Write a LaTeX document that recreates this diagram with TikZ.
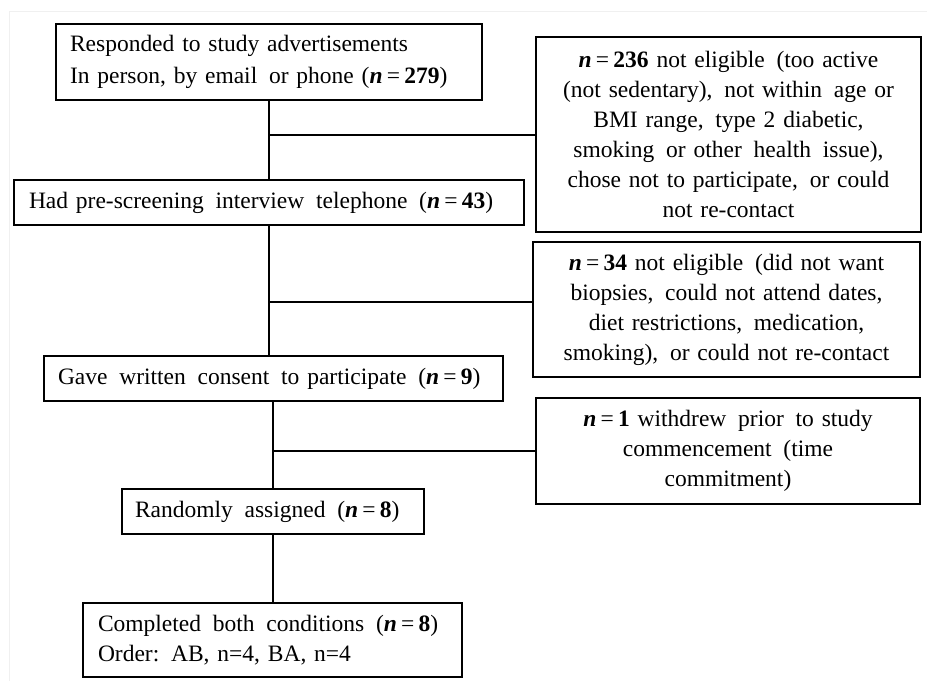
\documentclass[tikz,border=0pt]{standalone}
\usepackage{fontspec}
\setmainfont{Liberation Serif}
\newcommand{\nn}[1]{\textbf{\textit{n}}\hspace{0.18em}=\hspace{0.18em}\textbf{#1}}
\begin{document}
\begin{tikzpicture}[x=1pt,y=-1pt,
  box/.style={draw, line width=1.2pt, inner sep=0pt,
    font=\fontsize{23.5}{30}\selectfont},
  lbox/.style={box, align=left},
  cbox/.style={box, align=center},
  conn/.style={line width=1.2pt}]
\useasboundingbox (0,0) rectangle (927,681);
\fill[white] (0,0) rectangle (927,681);
\draw[black!6, line width=0.8pt] (9,681) -- (9,11) -- (927,11);
% left column
\node[lbox, minimum width=426pt, minimum height=76pt, text width=398pt] (b1) at (269,62)
  {Responded to study advertisements\\[2pt]In person, by email\, or phone (\nn{279})};
\node[lbox, minimum width=510pt, minimum height=45pt, text width=480pt] (b2) at (269,202.5)
  {Had pre-screening\, interview\, telephone\, (\nn{43})};
\node[lbox, minimum width=459pt, minimum height=45pt, text width=431pt] (b3) at (273.5,378.5)
  {Gave\, written\, consent\, to participate\, (\nn{9})};
\node[lbox, minimum width=302pt, minimum height=45pt, text width=276pt] (b4) at (273,511.5)
  {Randomly\, assigned\, (\nn{8})};
\node[lbox, minimum width=379pt, minimum height=74pt, text width=349pt] (b5) at (272.5,640)
  {Completed\, both\, conditions\, (\nn{8})\\Order: AB, n=4, BA, n=4};
% right column
\node[cbox, minimum width=385pt, minimum height=195pt, text width=375pt] (r1) at (728.5,134.5)
  {\nn{236} not eligible\, (too active\\(not sedentary),\, not within\, age or\\BMI range,\, type 2 diabetic,\\smoking\, or other\, health\, issue),\\chose not to participate,\, or could\\not re-contact};
\node[cbox, minimum width=387pt, minimum height=135pt, text width=377pt] (r2) at (726.5,309.5)
  {\nn{34} not eligible\, (did not want\\biopsies,\, could not attend dates,\\diet restrictions,\, medication,\\smoking),\, or could not re-contact};
\node[cbox, minimum width=384pt, minimum height=106pt, text width=374pt] (r3) at (728,451)
  {\nn{1} withdrew\, prior\, to study\\commencement\, (time\\commitment)};
% connectors
\coordinate (k1) at (0,135);
\coordinate (k2) at (0,302);
\coordinate (k3) at (0,451);
\draw[conn] (b1.south) -- (b1.south |- b2.north);
\draw[conn] (b1.south |- k1) -- (r1.west |- k1);
\draw[conn] (b2.south) -- (b2.south |- b3.north);
\draw[conn] (b2.south |- k2) -- (r2.west |- k2);
\draw[conn] (b4.north |- b3.south) -- (b4.north);
\draw[conn] (b4.north |- k3) -- (r3.west |- k3);
\draw[conn] (b4.south) -- (b4.south |- b5.north);
\end{tikzpicture}
\end{document}
